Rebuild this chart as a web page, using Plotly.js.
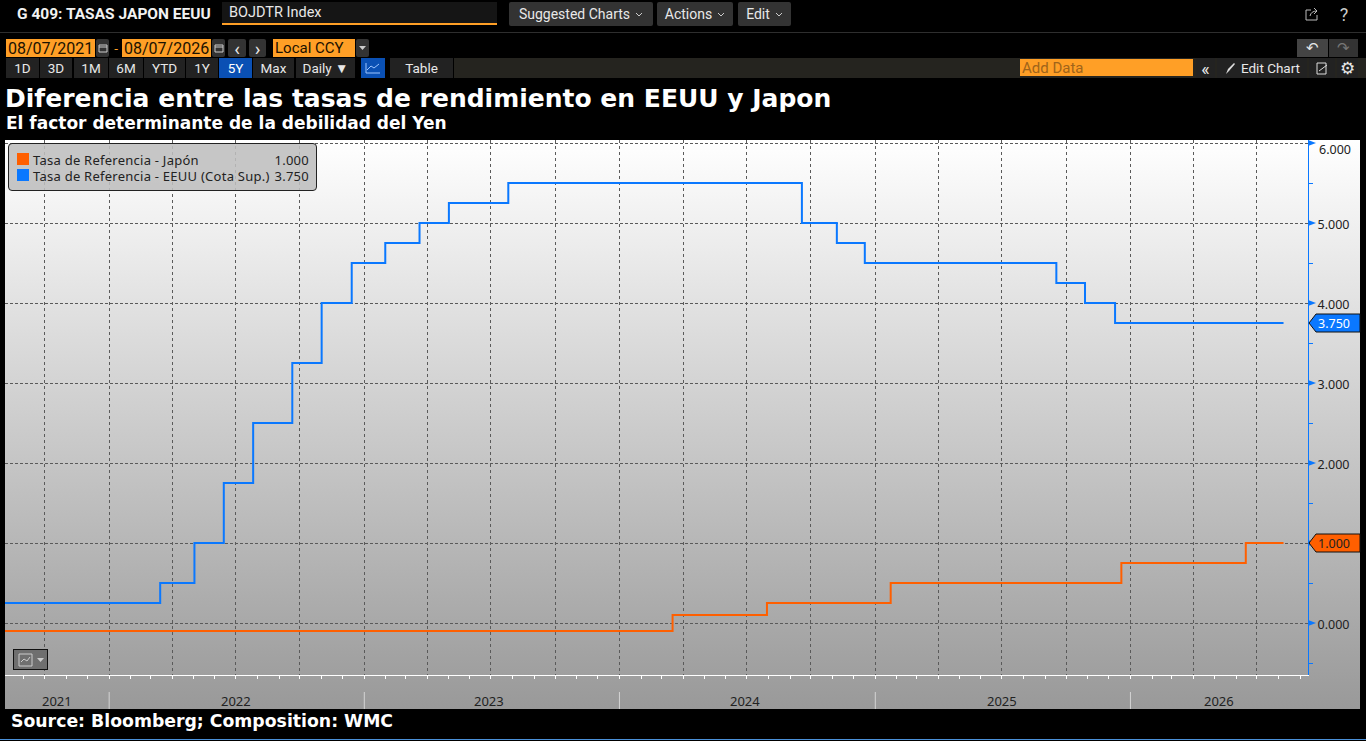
<!DOCTYPE html>
<html>
<head>
<meta charset="utf-8">
<script src="https://cdn.plot.ly/plotly-3.0.1.min.js"></script>
<style>
  html, body { margin: 0; padding: 0; background: #000; width: 1366px; height: 741px; overflow: hidden; }
  .ui { position: absolute; box-sizing: border-box; font-family: Roboto, sans-serif; font-size: 13.5px; color: #e8e8e8; white-space: nowrap; display: flex; align-items: center; justify-content: center; }
  .btn { background: #333; border-radius: 2px; }
  .tab { background: #222; }
  .org { background: #ff9f26; color: #1c1200; justify-content: flex-start; padding-left: 2px; font-size: 16px; }
  #bg { position: absolute; left: 5px; top: 140px; width: 1355px; height: 569px; background: linear-gradient(#fff, #999); }
  #chart { position: absolute; left: 0; top: 0; width: 1366px; height: 741px; }
  #legend { position: absolute; left: 8px; top: 143px; width: 309px; height: 48px; box-sizing: border-box; border: 1px solid #222; border-radius: 4px; background: rgba(190,190,190,0.88); font-family: "Noto Sans", sans-serif; font-size: 13px; letter-spacing: 0.25px; color: #222; }
  #legend .row { position: absolute; left: 8px; right: 7px; height: 16px; line-height: 16px; }
  #legend i { position: absolute; left: 0; top: 1px; width: 12px; height: 12px; }
  #legend span { position: absolute; left: 16px; }
  #legend b { position: absolute; right: 0; font-weight: normal; }
</style>
</head>
<body>
<div id="bg"></div>
<div id="chart"></div>
<div id="legend"></div>
<div id="toolbar"></div>
<script>
var usDates = ["2021-08-05", "2022-03-15", "2022-05-03", "2022-06-14", "2022-07-26", "2022-09-20", "2022-11-01", "2022-12-14", "2023-01-31", "2023-03-21", "2023-05-02", "2023-07-26", "2024-09-18", "2024-11-07", "2024-12-17", "2025-09-17", "2025-10-28", "2025-12-10", "2026-08-08"];
var usRates = [0.25, 0.5, 1.0, 1.75, 2.5, 3.25, 4.0, 4.5, 4.75, 5.0, 5.25, 5.5, 5.0, 4.75, 4.5, 4.25, 4.0, 3.75, 3.75];
var jpDates = ["2021-08-05", "2024-03-17", "2024-07-30", "2025-01-23", "2025-12-19", "2026-06-15", "2026-08-08"];
var jpRates = [-0.1, 0.1, 0.25, 0.5, 0.75, 1.0, 1.0];

var yearLabels = ["2021", "2022", "2023", "2024", "2025", "2026"];
var yearLabelDates = ["2021-10-18", "2022-07-02", "2023-06-29", "2024-06-29", "2025-07-01", "2026-05-08"];
var yearStarts = ["2022-01-01", "2023-01-01", "2024-01-01", "2025-01-01", "2026-01-01"];
var yTicks = [0, 1, 2, 3, 4, 5, 6];

var usName = "Tasa de Referencia - EEUU (Cota Sup.)";
var jpName = "Tasa de Referencia - Japón";
var titleText = "Diferencia entre las tasas de rendimiento en EEUU y Japon";
var subtitleText = "El factor determinante de la debilidad del Yen";
var sourceText = "Source: Bloomberg; Composition: WMC";

var BLUE = "#0a78ff";
var ORANGE = "#ff5f00";
var GRID = "#5a5a5a";

var data = [
  { x: jpDates, y: jpRates, mode: "lines", name: jpName, line: { color: ORANGE, width: 2, shape: "hv" } },
  { x: usDates, y: usRates, mode: "lines", name: usName, line: { color: BLUE, width: 2, shape: "hv" } },
];

var shapes = [];
var annotations = [];

// separadores de años debajo del eje
yearStarts.forEach(function (d) {
  shapes.push({ type: "line", xref: "x", yref: "paper", x0: d, x1: d, y0: -0.0318, y1: -0.0636, line: { color: "#d4d4d4", width: 1 } });
});
yearLabels.forEach(function (label, i) {
  annotations.push({ xref: "x", yref: "paper", x: yearLabelDates[i], y: -0.0486, yanchor: "middle", text: label, showarrow: false, font: { family: "Noto Sans", size: 13, color: "#222" } });
});

// flechitas azules en el eje derecho
yTicks.forEach(function (v) {
  shapes.push({ type: "path", xref: "paper", yref: "y", xsizemode: "pixel", ysizemode: "pixel", xanchor: 1, yanchor: v, path: "M 0 -3 L 8 0 L 0 3 Z", fillcolor: BLUE, line: { width: 0 } });
});

// etiquetas del ultimo valor
function lastValueTag(value, color, textColor) {
  shapes.push({ type: "path", xref: "paper", yref: "y", xsizemode: "pixel", ysizemode: "pixel", xanchor: 1, yanchor: value, path: "M 1 0 L 8 -9 L 52 -9 L 52 9 L 8 9 Z", fillcolor: color, line: { color: "#111", width: 1 } });
  annotations.push({ xref: "paper", yref: "y", x: 1, y: value, xanchor: "left", xshift: 8, text: value.toFixed(3), showarrow: false, font: { family: "Noto Sans", size: 12.5, color: textColor } });
}
lastValueTag(usRates[usRates.length - 1], BLUE, "#fff");
lastValueTag(jpRates[jpRates.length - 1], ORANGE, "#222");

// el 6.000 va un poco por debajo de su linea
annotations.push({ xref: "paper", yref: "y", x: 1, y: 6, xanchor: "left", xshift: 9, yshift: -6, text: "6.000", showarrow: false, font: { family: "Noto Sans", size: 12.5, color: "#222" } });

annotations.push({ xref: "paper", yref: "paper", x: -0.001, y: 1.032, xanchor: "left", yanchor: "middle", text: "<b>" + subtitleText + "</b>", showarrow: false, font: { family: "DejaVu Sans", size: 17, color: "#fff" } });
annotations.push({ xref: "paper", yref: "paper", x: 0.003, y: -0.086, xanchor: "left", yanchor: "middle", text: "<b>" + sourceText + "</b>", showarrow: false, font: { family: "DejaVu Sans", size: 17.3, color: "#fff" } });

var layout = {
  width: 1366,
  height: 741,
  autosize: false,
  margin: { l: 5, r: 58, t: 140, b: 66 },
  paper_bgcolor: "rgba(0,0,0,0)",
  plot_bgcolor: "rgba(0,0,0,0)",
  showlegend: false,
  title: {
    text: "<b>" + titleText + "</b>",
    xref: "container", yref: "container",
    x: 5 / 1366, xanchor: "left",
    y: 1 - 98 / 741, yanchor: "middle",
    font: { family: "DejaVu Sans", size: 25, color: "#fff" },
  },
  xaxis: {
    type: "date",
    range: ["2021-08-05", "2026-09-12"],
    showticklabels: false,
    tick0: "2021-10-01",
    dtick: "M1",
    ticks: "outside",
    ticklen: 3,
    tickcolor: "#fff",
    showline: true,
    linecolor: "#fff",
    linewidth: 1,
    showgrid: false,
    zeroline: false,
  },
  yaxis: {
    side: "right",
    range: [-0.65, 6.0375],
    tickmode: "array",
    tickvals: yTicks,
    ticktext: yTicks.map(function (v) { return v === 6 ? " " : v.toFixed(3); }),
    ticks: "outside",
    ticklen: 6,
    tickcolor: "rgba(0,0,0,0)",
    tickfont: { family: "Noto Sans", size: 12.5, color: "#222" },
    ticklabelshift: 2,
    showline: true,
    linecolor: BLUE,
    linewidth: 1,
    showgrid: true,
    gridcolor: GRID,
    griddash: "3px,2px",
    zeroline: false,
    minor: { tickvals: [-0.5, 0.5, 1.5, 2.5, 3.5, 4.5, 5.5], ticks: "outside", ticklen: 4, tickcolor: BLUE, showgrid: false },
  },
  shapes: shapes,
  annotations: annotations,
};

// lineas verticales trimestrales: eje x superpuesto solo para la rejilla
layout.xaxis2 = {
  type: "date",
  overlaying: "x",
  matches: "x",
  range: layout.xaxis.range,
  showticklabels: false,
  ticks: "",
  tick0: "2021-10-01",
  dtick: "M3",
  showgrid: true,
  gridcolor: GRID,
  griddash: "3px,3px",
  zeroline: false,
};
data.push({ x: [usDates[0]], y: [usRates[0]], xaxis: "x2", mode: "none", hoverinfo: "skip" });

Plotly.newPlot("chart", data, layout, { displayModeBar: false, staticPlot: true });

// cuadro de leyenda
document.getElementById("legend").innerHTML =
  '<div class="row" style="top:8px"><i style="background:' + ORANGE + '"></i><span>' + jpName + "</span><b>" + jpRates[jpRates.length - 1].toFixed(3) + "</b></div>" +
  '<div class="row" style="top:24px"><i style="background:' + BLUE + '"></i><span>' + usName + "</span><b>" + usRates[usRates.length - 1].toFixed(3) + "</b></div>";

// barra de herramientas de la terminal
function ui(x, y, w, h, text, cls, extra) {
  var el = document.createElement("div");
  el.className = "ui " + (cls || "");
  el.style.cssText = "left:" + x + "px;top:" + y + "px;width:" + w + "px;height:" + h + "px;" + (extra || "");
  el.innerHTML = text;
  document.getElementById("toolbar").appendChild(el);
  return el;
}

var chev = '<svg width="8" height="5" style="margin-left:5px"><path d="M1 1 L4 4 L7 1" fill="none" stroke="#ccc"/></svg>';
var cal = '<svg width="10" height="10"><path d="M1 2 H9 V9 H1 Z M1 4 H9" fill="none" stroke="#ccc"/></svg>';

ui(17, 4, 200, 20, "G 409: TASAS JAPON EEUU", "", "justify-content:flex-start;font-weight:700;font-size:15.5px;color:#f2f2f2");
ui(222, 2, 275, 23, "BOJDTR Index", "", "justify-content:flex-start;padding-left:7px;background:#151515;border-bottom:2px solid #ff9f26;font-size:14.5px");
ui(509, 2, 144, 24, "Suggested Charts" + chev, "btn", "font-size:14px");
ui(657, 2, 76, 24, "Actions" + chev, "btn", "font-size:14px");
ui(738, 2, 53, 24, "Edit" + chev, "btn", "font-size:14px");
ui(1303, 4, 18, 20, '<svg width="14" height="14"><path d="M6 3 H1 V13 H12 V8 M5 9 Q6 4 12 4 M9 1 L12 4 L9 7" fill="none" stroke="#bbb"/></svg>');
ui(1335, 3, 18, 22, "?", "", "font-size:18px;color:#ccc");
ui(0, 32, 1366, 1, "", "", "background:#2e2e2e");

ui(6, 39, 89, 18, "08/07/2021", "org");
ui(96, 39, 13, 18, cal, "btn");
ui(112, 40, 8, 16, "-", "", "color:#ff9f26");
ui(122, 39, 89, 18, "08/07/2026", "org");
ui(212, 39, 13, 18, cal, "btn");
ui(228, 39, 18, 18, "&lsaquo;", "btn", "font-size:19px");
ui(249, 39, 17, 18, "&rsaquo;", "btn", "font-size:19px");
ui(273, 39, 82, 18, "Local CCY", "org", "font-size:15px");
ui(356, 39, 13, 18, '<svg width="7" height="4"><path d="M0 0 H7 L3.5 4 Z" fill="#ccc"/></svg>', "btn");
ui(1297, 39, 31, 18, "&#8630;", "", "font-size:15px;background:#444");
ui(1329, 39, 29, 18, "&#8631;", "", "font-size:15px;color:#777;background:#333");

var rangeTabs = ["1D", "3D", "1M", "6M", "YTD", "1Y", "5Y", "Max", "Daily &#9660;"];
var tabLefts = [6, 40, 74, 109, 144, 186, 219, 253, 296];
var tabRights = [39, 72, 108, 143, 185, 218, 252, 294, 355];
ui(454, 58, 912, 20, "", "", "background:#25241f");
rangeTabs.forEach(function (t, i) {
  ui(tabLefts[i], 58, tabRights[i] - tabLefts[i], 20, t, "tab", t === "5Y" ? "background:#0a50b4;color:#fff" : "");
});
ui(361, 58, 24, 20, '<svg width="16" height="12"><path d="M1 1 V11 H15 M2 8 L6 4 L9 6 L14 2" fill="none" stroke="#9cc4ff"/></svg>', "", "background:#0a50b4");
ui(390, 58, 63, 20, "Table", "tab");
ui(1020, 59, 173, 17, "Add Data", "org", "color:#a0641a;font-size:15px");
ui(1196, 58, 19, 20, "&laquo;", "tab", "font-size:18px");
ui(1217, 58, 90, 20, '<svg width="12" height="13" style="margin-right:5px"><path d="M2 12 L4 7 L10 1 L11 2 L5 9 Z" fill="#ddd"/></svg>Edit Chart', "tab");
ui(1309, 58, 26, 20, '<svg width="13" height="13"><path d="M1 1 H10 V12 H1 Z M3 9 L11 3" fill="none" stroke="#ddd"/></svg>', "tab");
ui(1337, 58, 21, 20, "&#9881;", "tab", "font-size:17px");

ui(13, 649, 35, 21, '<svg width="15" height="14"><path d="M1 1 H14 V13 H1 Z M3 9 L6 6 L9 8 L12 4" fill="none" stroke="#ccc"/></svg><svg width="7" height="4" style="margin-left:4px"><path d="M0 0 H7 L3.5 4 Z" fill="#ccc"/></svg>', "", "background:#6f6f6f;border:1px solid #111");
ui(0, 739, 1366, 1, "", "", "background:#4a90d9");
</script>
</body>
</html>
